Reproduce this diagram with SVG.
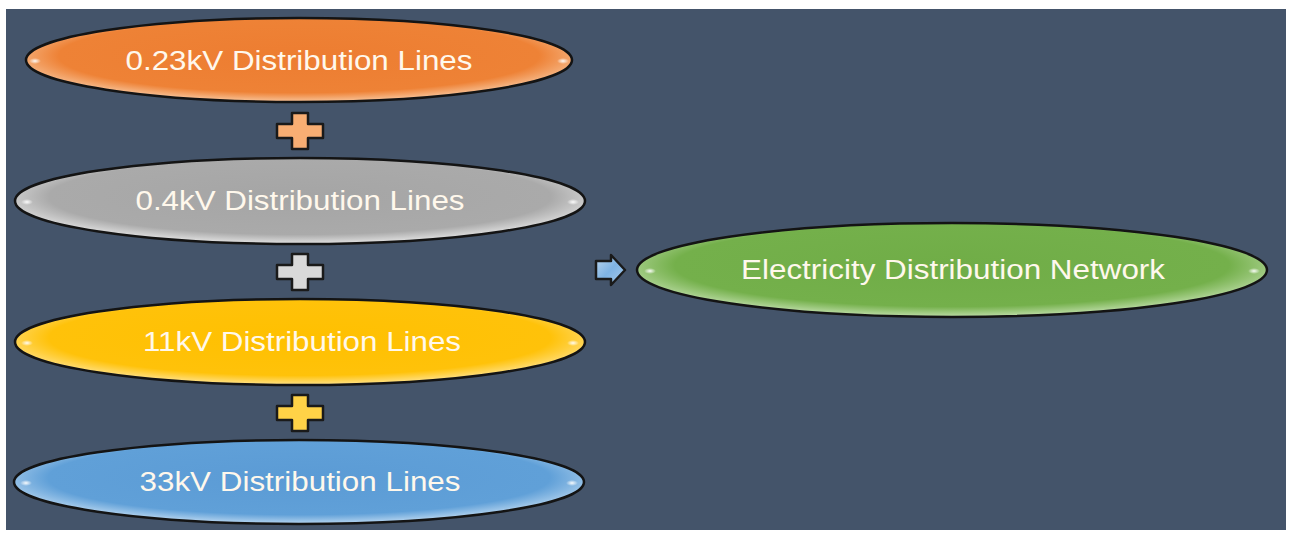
<svg xmlns="http://www.w3.org/2000/svg" width="1291" height="534" viewBox="0 0 1291 534">
<defs>
<radialGradient id="gO" cx="0.5" cy="0.45" r="0.55"><stop offset="0" stop-color="#ED7D31"/><stop offset="0.8" stop-color="#EE8236"/><stop offset="1" stop-color="#F8C49A"/></radialGradient>
<radialGradient id="gG" cx="0.5" cy="0.45" r="0.55"><stop offset="0" stop-color="#A5A5A5"/><stop offset="0.8" stop-color="#AAAAAA"/><stop offset="1" stop-color="#E2E2E2"/></radialGradient>
<radialGradient id="gY" cx="0.5" cy="0.45" r="0.55"><stop offset="0" stop-color="#FFC000"/><stop offset="0.8" stop-color="#FFC20A"/><stop offset="1" stop-color="#FFE28A"/></radialGradient>
<radialGradient id="gB" cx="0.5" cy="0.45" r="0.55"><stop offset="0" stop-color="#5B9BD5"/><stop offset="0.8" stop-color="#60A0D8"/><stop offset="1" stop-color="#B8D6F0"/></radialGradient>
<radialGradient id="gN" cx="0.5" cy="0.45" r="0.55"><stop offset="0" stop-color="#70AD47"/><stop offset="0.8" stop-color="#74B04B"/><stop offset="1" stop-color="#BEDDA8"/></radialGradient>
<radialGradient id="hl"><stop offset="0" stop-color="#FFFFFF" stop-opacity="0.95"/><stop offset="1" stop-color="#FFFFFF" stop-opacity="0"/></radialGradient>
<linearGradient id="arrowG" x1="0" y1="0" x2="1" y2="1"><stop offset="0" stop-color="#BDD7EE"/><stop offset="0.5" stop-color="#7FB3E3"/><stop offset="1" stop-color="#A9CBEB"/></linearGradient>
<path id="plus" d="M-8,-18 H8 V-7 H23 V7 H8 V18 H-8 V7 H-23 V-7 H-8 Z"/>
</defs>
<style>
.node{stroke:#141414;stroke-width:2.5}
.lbl{font-family:"Liberation Sans",Arial,sans-serif;font-size:27px;fill:#FFF8EC;text-anchor:middle}
.plus{stroke:#1a1a1a;stroke-width:2.5;stroke-linejoin:round}
</style>
<rect x="0" y="0" width="1291" height="534" fill="#FFFFFF"/>
<rect x="6" y="9" width="1280" height="521" fill="#44546A"/>

<g id="node-023kv">
<ellipse class="node" cx="299" cy="60" rx="273" ry="42" fill="url(#gO)"/>
<ellipse cx="35" cy="61" rx="6" ry="3" fill="url(#hl)"/>
<ellipse cx="563" cy="61" rx="6" ry="3" fill="url(#hl)"/>
<text class="lbl" x="299" y="70" textLength="347" lengthAdjust="spacingAndGlyphs">0.23kV Distribution Lines</text>
</g>

<g id="node-04kv">
<ellipse class="node" cx="300" cy="201" rx="285" ry="43" fill="url(#gG)"/>
<ellipse cx="27" cy="202" rx="6" ry="3" fill="url(#hl)"/>
<ellipse cx="573" cy="202" rx="6" ry="3" fill="url(#hl)"/>
<text class="lbl" x="300" y="210" textLength="329" lengthAdjust="spacingAndGlyphs">0.4kV Distribution Lines</text>
</g>

<g id="node-11kv">
<ellipse class="node" cx="300" cy="342" rx="285" ry="43" fill="url(#gY)"/>
<ellipse cx="27" cy="343" rx="6" ry="3" fill="url(#hl)"/>
<ellipse cx="573" cy="343" rx="6" ry="3" fill="url(#hl)"/>
<text class="lbl" x="302" y="351" textLength="318" lengthAdjust="spacingAndGlyphs">11kV Distribution Lines</text>
</g>

<g id="node-33kv">
<ellipse class="node" cx="299" cy="482" rx="285" ry="42" fill="url(#gB)"/>
<ellipse cx="26" cy="483" rx="6" ry="3" fill="url(#hl)"/>
<ellipse cx="572" cy="483" rx="6" ry="3" fill="url(#hl)"/>
<text class="lbl" x="300" y="491" textLength="321" lengthAdjust="spacingAndGlyphs">33kV Distribution Lines</text>
</g>

<g id="node-network">
<ellipse class="node" cx="952" cy="270" rx="315" ry="47" fill="url(#gN)"/>
<ellipse cx="650" cy="271" rx="6" ry="3" fill="url(#hl)"/>
<ellipse cx="1254" cy="271" rx="6" ry="3" fill="url(#hl)"/>
<text class="lbl" x="953" y="279" textLength="424" lengthAdjust="spacingAndGlyphs">Electricity Distribution Network</text>
</g>

<g id="connectors">
<use href="#plus" class="plus" x="300" y="131" fill="#F8AE73"/>
<use href="#plus" class="plus" x="300" y="272" fill="#D9D9D9"/>
<use href="#plus" class="plus" x="300" y="413" fill="#FFD247"/>
<path class="plus" d="M596,261 H611 V255 L625,270 L611,285 V279 H596 Z" fill="url(#arrowG)"/>
</g>
</svg>
